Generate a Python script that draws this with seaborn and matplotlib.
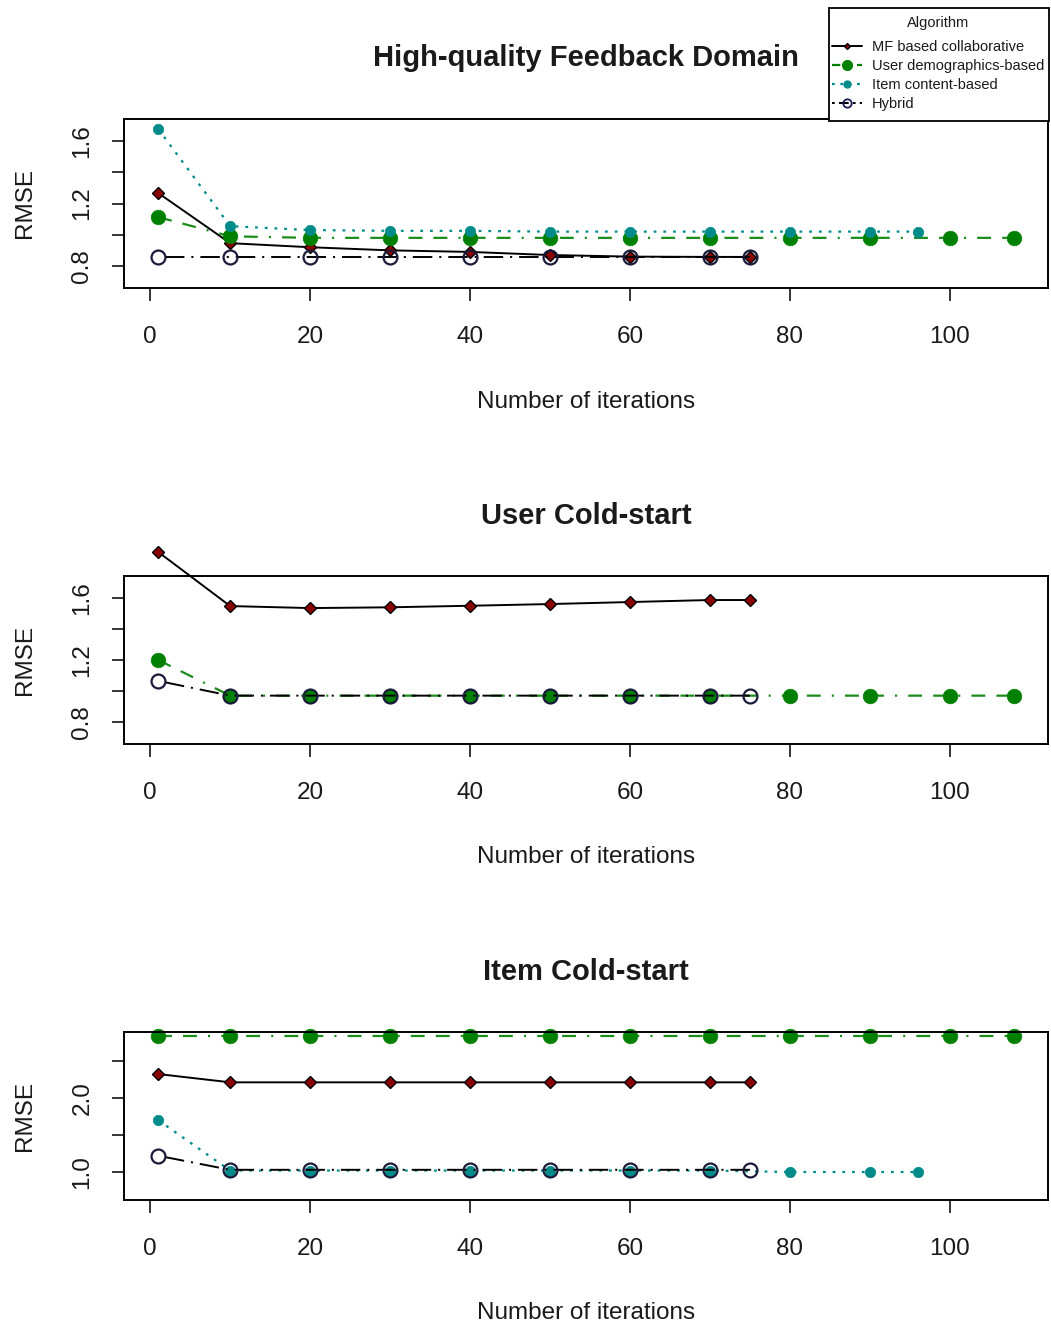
import matplotlib.pyplot as plt
import seaborn as sns
from matplotlib.lines import Line2D
from matplotlib.patches import Rectangle

sns.set_style("ticks")
plt.rcParams['font.family'] = ['Liberation Sans', 'DejaVu Sans']
plt.rcParams['lines.scale_dashes'] = False
ink = "#1a1a1a"
plt.rcParams.update({"text.color": ink, "axes.labelcolor": ink, "xtick.color": ink,
                     "ytick.color": ink, "xtick.labelcolor": ink, "ytick.labelcolor": ink})

# iteration counts for each algorithm
iters_mf = [1, 10, 20, 30, 40, 50, 60, 70, 75]
iters_user = [1, 10, 20, 30, 40, 50, 60, 70, 80, 90, 100, 108]
iters_item = [1, 10, 20, 30, 40, 50, 60, 70, 80, 90, 96]
iters_hybrid = [1, 10, 20, 30, 40, 50, 60, 70, 75]

# High-quality feedback domain
hq_mf = [1.267, 0.946, 0.92, 0.90, 0.89, 0.87, 0.86, 0.858, 0.858]
hq_user = [1.113, 0.99, 0.98, 0.98, 0.98, 0.98, 0.98, 0.98, 0.98, 0.98, 0.98, 0.98]
hq_item = [1.677, 1.055, 1.03, 1.025, 1.025, 1.02, 1.02, 1.02, 1.02, 1.02, 1.02]
hq_hybrid = [0.858, 0.858, 0.858, 0.858, 0.858, 0.858, 0.858, 0.858, 0.858]

# User cold-start (item content-based not shown)
uc_mf = [1.897, 1.548, 1.535, 1.54, 1.55, 1.561, 1.574, 1.587, 1.587]
uc_user = [1.2, 0.97, 0.97, 0.97, 0.97, 0.97, 0.97, 0.97, 0.97, 0.97, 0.97, 0.97]
uc_hybrid = [1.065, 0.97, 0.97, 0.97, 0.97, 0.97, 0.97, 0.97, 0.97]

# Item cold-start
ic_mf = [2.324, 2.212, 2.212, 2.212, 2.212, 2.212, 2.212, 2.212, 2.212]
ic_user = [2.842, 2.842, 2.842, 2.842, 2.842, 2.842, 2.842, 2.842, 2.842, 2.842, 2.842, 2.842]
ic_item = [1.70, 1.02, 1.02, 1.02, 1.02, 1.02, 1.02, 1.02, 1.0, 1.0, 1.0]
ic_hybrid = [1.22, 1.03, 1.03, 1.03, 1.03, 1.03, 1.03, 1.03, 1.03]

labels = ["MF based collaborative", "User demographics-based", "Item content-based", "Hybrid"]
titles = ["High-quality Feedback Domain", "User Cold-start", "Item Cold-start"]

# line / marker styles (R type="b" look)
sty = {
    "mf": dict(color="black", linestyle="-", lw=1.4, marker="D", markersize=6.5,
               markerfacecolor="#8b0000", markeredgecolor="black", markeredgewidth=1),
    "user": dict(color="#1a8c1a", linestyle=(0, (10, 8, 10, 8, 1.5, 8)), lw=1.6, marker="o",
                 markersize=10.5, markerfacecolor="#008000", markeredgecolor="#008000", markeredgewidth=0.5),
    "item": dict(color="#008b8b", linestyle=(0, (2, 5)), lw=1.6, marker="o", markersize=7.5,
                 markerfacecolor="#008b8b", markeredgecolor="#008b8b", markeredgewidth=0.5),
    "hybrid": dict(color="black", linestyle=(1.5, (1.5, 5, 14, 5)), lw=1.4, marker="o", markersize=10,
                   markerfacecolor="none", markeredgecolor="#1a1a3a", markeredgewidth=1.6),
}

fig = plt.figure(figsize=(10.51, 13.29), dpi=100)
W, H = 1051, 1329
boxes = [(119, 288), (576, 744), (1032, 1200)]

panels = [
    [("mf", iters_mf, hq_mf), ("user", iters_user, hq_user), ("item", iters_item, hq_item),
     ("hybrid", iters_hybrid, hq_hybrid)],
    [("mf", iters_mf, uc_mf), ("user", iters_user, uc_user), ("hybrid", iters_hybrid, uc_hybrid)],
    [("mf", iters_mf, ic_mf), ("user", iters_user, ic_user), ("item", iters_item, ic_item),
     ("hybrid", iters_hybrid, ic_hybrid)],
]
ylims = [(0.659, 1.741), (0.658, 1.742), (0.622, 2.892)]
yticks = [[0.8, 1.0, 1.2, 1.4, 1.6], [0.8, 1.0, 1.2, 1.4, 1.6], [1.0, 1.5, 2.0, 2.5]]
ytlabels = [["0.8", "", "1.2", "", "1.6"], ["0.8", "", "1.2", "", "1.6"], ["1.0", "", "2.0", ""]]
xticks = [0, 20, 40, 60, 80, 100]

for i, (top, bot) in enumerate(boxes):
    ax = fig.add_axes([124 / W, 1 - bot / H, (1048 - 124) / W, (bot - top) / H])
    for key, xs, ys in panels[i]:
        sns.lineplot(x=xs, y=ys, ax=ax, clip_on=False, **sty[key])
    ax.set_xlim(-3.28, 112.28)
    ax.set_ylim(*ylims[i])
    ax.set_xticks(xticks)
    ax.set_xticklabels([str(t) for t in xticks])
    ax.set_yticks(yticks[i])
    ax.set_yticklabels(ytlabels[i], rotation=90, va="center")
    ax.tick_params(axis="x", length=9.5, width=1.1, labelsize=17.5, pad=18, color="black")
    ax.tick_params(axis="y", length=9, width=1.1, labelsize=17.5, pad=13, color="black")
    for s in ax.spines.values():
        s.set_linewidth(1.4)
        s.set_color("black")
    ax.set_xlabel("Number of iterations", fontsize=17.5)
    ax.xaxis.set_label_coords(0.5, -0.607)
    ax.set_ylabel("RMSE", fontsize=17.5)
    ax.yaxis.set_label_coords(-0.095, 0.5)
    ax.set_title(titles[i], fontsize=21, fontweight="bold", y=1.311, pad=0)

# legend frame drawn as a plain box like R's legend()
fig.patches.append(Rectangle((829 / W, 1 - 121 / H), 220 / W, 113 / H, transform=fig.transFigure,
                             facecolor="white", edgecolor="black", lw=1.3, zorder=5))

handles = [
    Line2D([], [], color="black", lw=1.4, marker="D", markersize=3,
           markerfacecolor="#8b0000", markeredgecolor="black"),
    Line2D([], [], color="#008000", lw=1.6, linestyle=(0, (6, 3)), marker="o", markersize=7,
           markerfacecolor="#008000", markeredgecolor="#008000"),
    Line2D([], [], color="#008b8b", lw=1.6, linestyle=(0, (2, 4)), marker="o", markersize=5,
           markerfacecolor="#008b8b", markeredgecolor="#008b8b"),
    Line2D([], [], color="black", lw=1.4, linestyle=(0, (2, 3, 7, 3)), marker="o", markersize=6,
           markerfacecolor="none", markeredgecolor="#1a1a5a", markeredgewidth=1.3),
]
leg = fig.legend(handles, labels, title="Algorithm", loc="upper left",
                 bbox_to_anchor=(832 / W, 1 - 16 / H), borderaxespad=0, borderpad=0,
                 fontsize=10.5, title_fontsize=10.5, frameon=False, handlelength=2.05,
                 handletextpad=0.7, labelspacing=0.35)
leg._legend_box.sep = 7.3
leg.set_zorder(6)

fig.savefig("out.png", dpi=100)
